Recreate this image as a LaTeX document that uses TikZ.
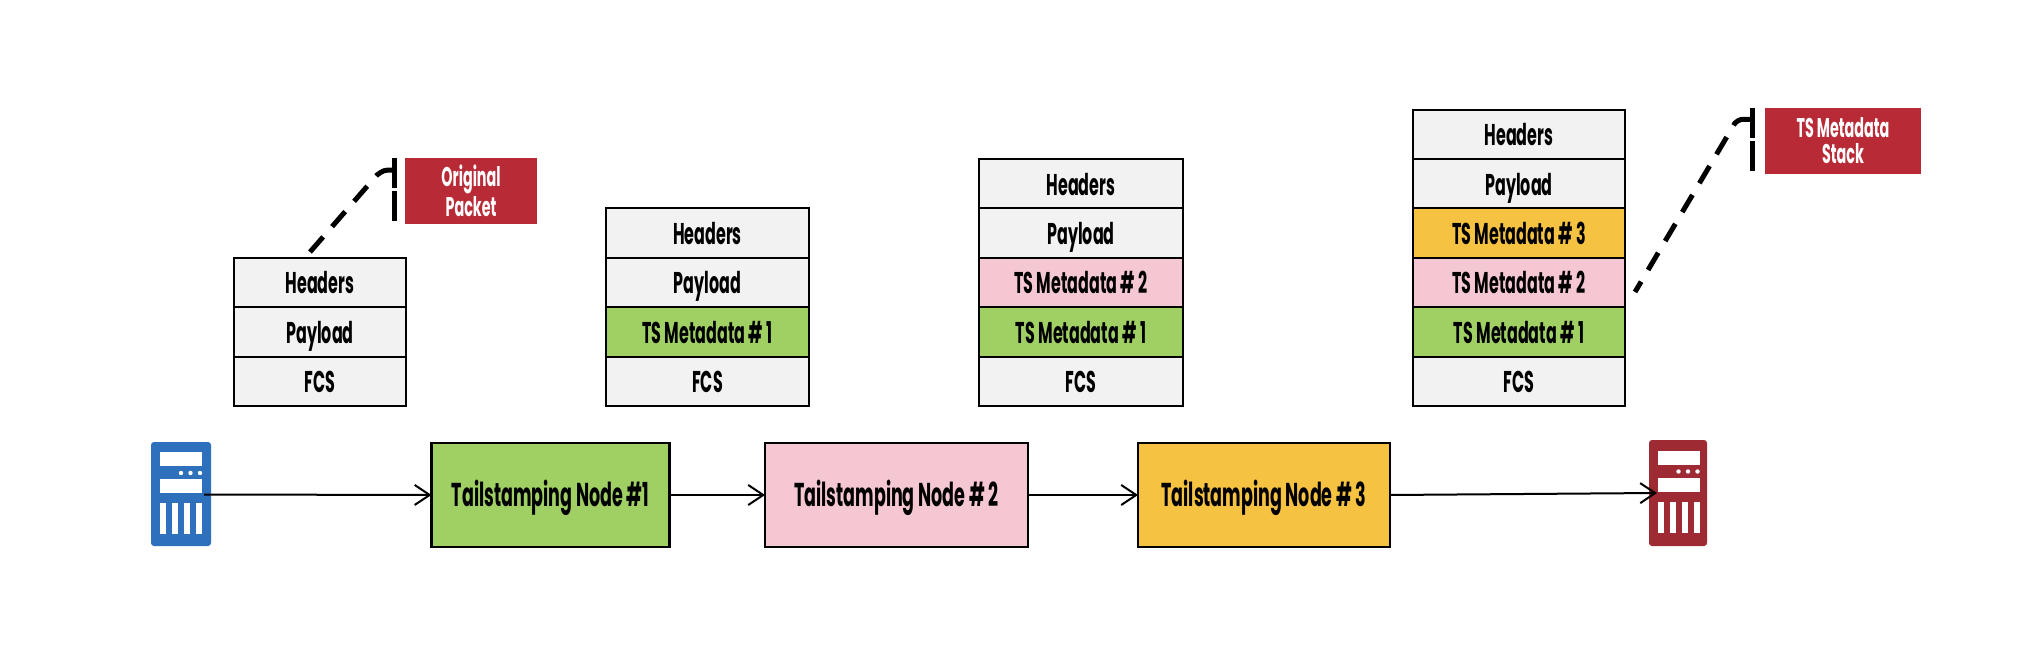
\documentclass[tikz,border=0pt]{standalone}
\usepackage{fontspec}
\setmainfont[FakeStretch=0.53]{Poppins}
\usetikzlibrary{arrows.meta}
\definecolor{cellgray}{HTML}{F2F2F2}
\definecolor{tsgreen}{HTML}{A0CF64}
\definecolor{tspink}{HTML}{F4C7D2}
\definecolor{tsorange}{HTML}{F5C242}
\definecolor{tagred}{HTML}{B92A37}
\definecolor{srcblue}{HTML}{2F70BC}
\definecolor{dstred}{HTML}{9E2A33}
\tikzstyle{cell}=[draw,line width=1pt,minimum height=24.7pt,inner sep=0pt,text height=11.5pt,text depth=0pt,font=\fontsize{15}{16}\selectfont\bfseries]
\tikzstyle{hop}=[draw,line width=1.4pt,outer sep=0pt,inner sep=0pt,text height=11.5pt,text depth=0pt,font=\fontsize{16.5}{16}\selectfont\bfseries]
\tikzstyle{tag}=[fill=tagred,text=white,inner sep=0pt,align=center,font=\fontsize{13.5}{13}\selectfont\bfseries]
\tikzstyle{link}=[line width=1pt,-{Straight Barb[length=7.5pt,width=10pt]}]
\tikzstyle{call}=[line width=2.5pt,dash pattern=on 10pt off 6.8pt]
\tikzstyle{bar}=[line width=2.5pt,dash pattern=on 15pt off 1.6pt]
\newcommand{\rackslots}[2]{% body corner, white parts
\fill[white] (#1+9,#2+10) rectangle (#1+51,#2+24);
\fill[white] (#1+9,#2+37) rectangle (#1+51,#2+51);
\fill[white] (#1+30,#2+31) circle (2.2);
\fill[white] (#1+39.5,#2+31) circle (2.2);
\fill[white] (#1+49,#2+31) circle (2.2);
\fill[white] (#1+9,#2+61) rectangle (#1+15,#2+92);
\fill[white] (#1+21,#2+61) rectangle (#1+27,#2+92);
\fill[white] (#1+33,#2+61) rectangle (#1+39,#2+92);
\fill[white] (#1+45,#2+61) rectangle (#1+51,#2+92);
}
\begin{document}
\begin{tikzpicture}[x=0.5pt,y=-0.5pt]
\useasboundingbox (0,0) rectangle (2022,646);

% hosts
\node (src) at (181,494) [fill=srcblue,rounded corners=1.5pt,minimum width=30pt,minimum height=52pt,inner sep=0pt] {};
\node (dst) at (1678,493) [fill=dstred,rounded corners=1.5pt,minimum width=29pt,minimum height=53pt,inner sep=0pt] {};
\rackslots{151}{442}
\rackslots{1648.5}{440.5}

% hops
\node (n1) at (550.5,495) [hop,fill=tsgreen,minimum width=119pt,minimum height=52pt] {Tailstamping Node \#1};
\node (n2) at (896.5,495) [hop,fill=tspink,minimum width=131.5pt,minimum height=52pt] {Tailstamping Node \# 2};
\node (n3) at (1264,495) [hop,fill=tsorange,minimum width=126pt,minimum height=52pt] {Tailstamping Node \# 3};

\coordinate (srcout) at (204,494.5);
\coordinate (dstin) at (1657,493);
\draw (srcout) -- (n1.west) [link];
\draw (n1.east) -- (n2.west) [link];
\draw (n2.east) -- (n3.west) [link];
\draw (n3.east) -- (dstin) [link];

% packet 1
\node (a1) at (320,282.5) [cell,fill=cellgray,minimum width=86pt] {Headers};
\node (a2) at (320,331.9) [cell,fill=cellgray,minimum width=86pt] {Payload};
\node (a3) at (320,381.3) [cell,fill=cellgray,minimum width=86pt] {FCS};

% packet 2
\node (b1) at (707.5,233.1) [cell,fill=cellgray,minimum width=101.5pt] {Headers};
\node (b2) at (707.5,282.5) [cell,fill=cellgray,minimum width=101.5pt] {Payload};
\node (b3) at (707.5,331.9) [cell,fill=tsgreen,minimum width=101.5pt] {TS Metadata \# 1};
\node (b4) at (707.5,381.3) [cell,fill=cellgray,minimum width=101.5pt] {FCS};

% packet 3
\node (c1) at (1081,183.7) [cell,fill=cellgray,minimum width=102pt] {Headers};
\node (c2) at (1081,233.1) [cell,fill=cellgray,minimum width=102pt] {Payload};
\node (c3) at (1081,282.5) [cell,fill=tspink,minimum width=102pt] {TS Metadata \# 2};
\node (c4) at (1081,331.9) [cell,fill=tsgreen,minimum width=102pt] {TS Metadata \# 1};
\node (c5) at (1081,381.3) [cell,fill=cellgray,minimum width=102pt] {FCS};

% packet 4
\node (d1) at (1519,134.3) [cell,fill=cellgray,minimum width=106pt] {Headers};
\node (d2) at (1519,183.7) [cell,fill=cellgray,minimum width=106pt] {Payload};
\node (d3) at (1519,233.1) [cell,fill=tsorange,minimum width=106pt] {TS Metadata \# 3};
\node (d4) at (1519,282.5) [cell,fill=tspink,minimum width=106pt] {TS Metadata \# 2};
\node (d5) at (1519,331.9) [cell,fill=tsgreen,minimum width=106pt] {TS Metadata \# 1};
\node (d6) at (1519,381.3) [cell,fill=cellgray,minimum width=106pt] {FCS};

% tags
\node (orig) at (471,191) [tag,minimum width=66pt,minimum height=33pt] {Original\\Packet};
\node (stack) at (1843,141) [tag,minimum width=78pt,minimum height=33pt] {TS Metadata\\Stack};

\coordinate (origfoot) at (310,252);
\coordinate (origknee) at (377,175);
\coordinate (orighook) at (394,170);
\coordinate (origtop) at (394,158);
\coordinate (origend) at (394,222);
\draw (origfoot) -- (origknee) .. controls (384,170) .. (orighook) [call];
\draw (origtop) -- (origend) [bar];

\coordinate (stackfoot) at (1635,292);
\coordinate (stackknee) at (1735,123);
\coordinate (stackhook) at (1752,119.5);
\coordinate (stacktop) at (1752,108);
\coordinate (stackend) at (1752,172);
\draw (stackfoot) -- (stackknee) .. controls (1740,119) .. (stackhook) [call,dash phase=4pt];
\draw (stacktop) -- (stackend) [bar];

\end{tikzpicture}
\end{document}
